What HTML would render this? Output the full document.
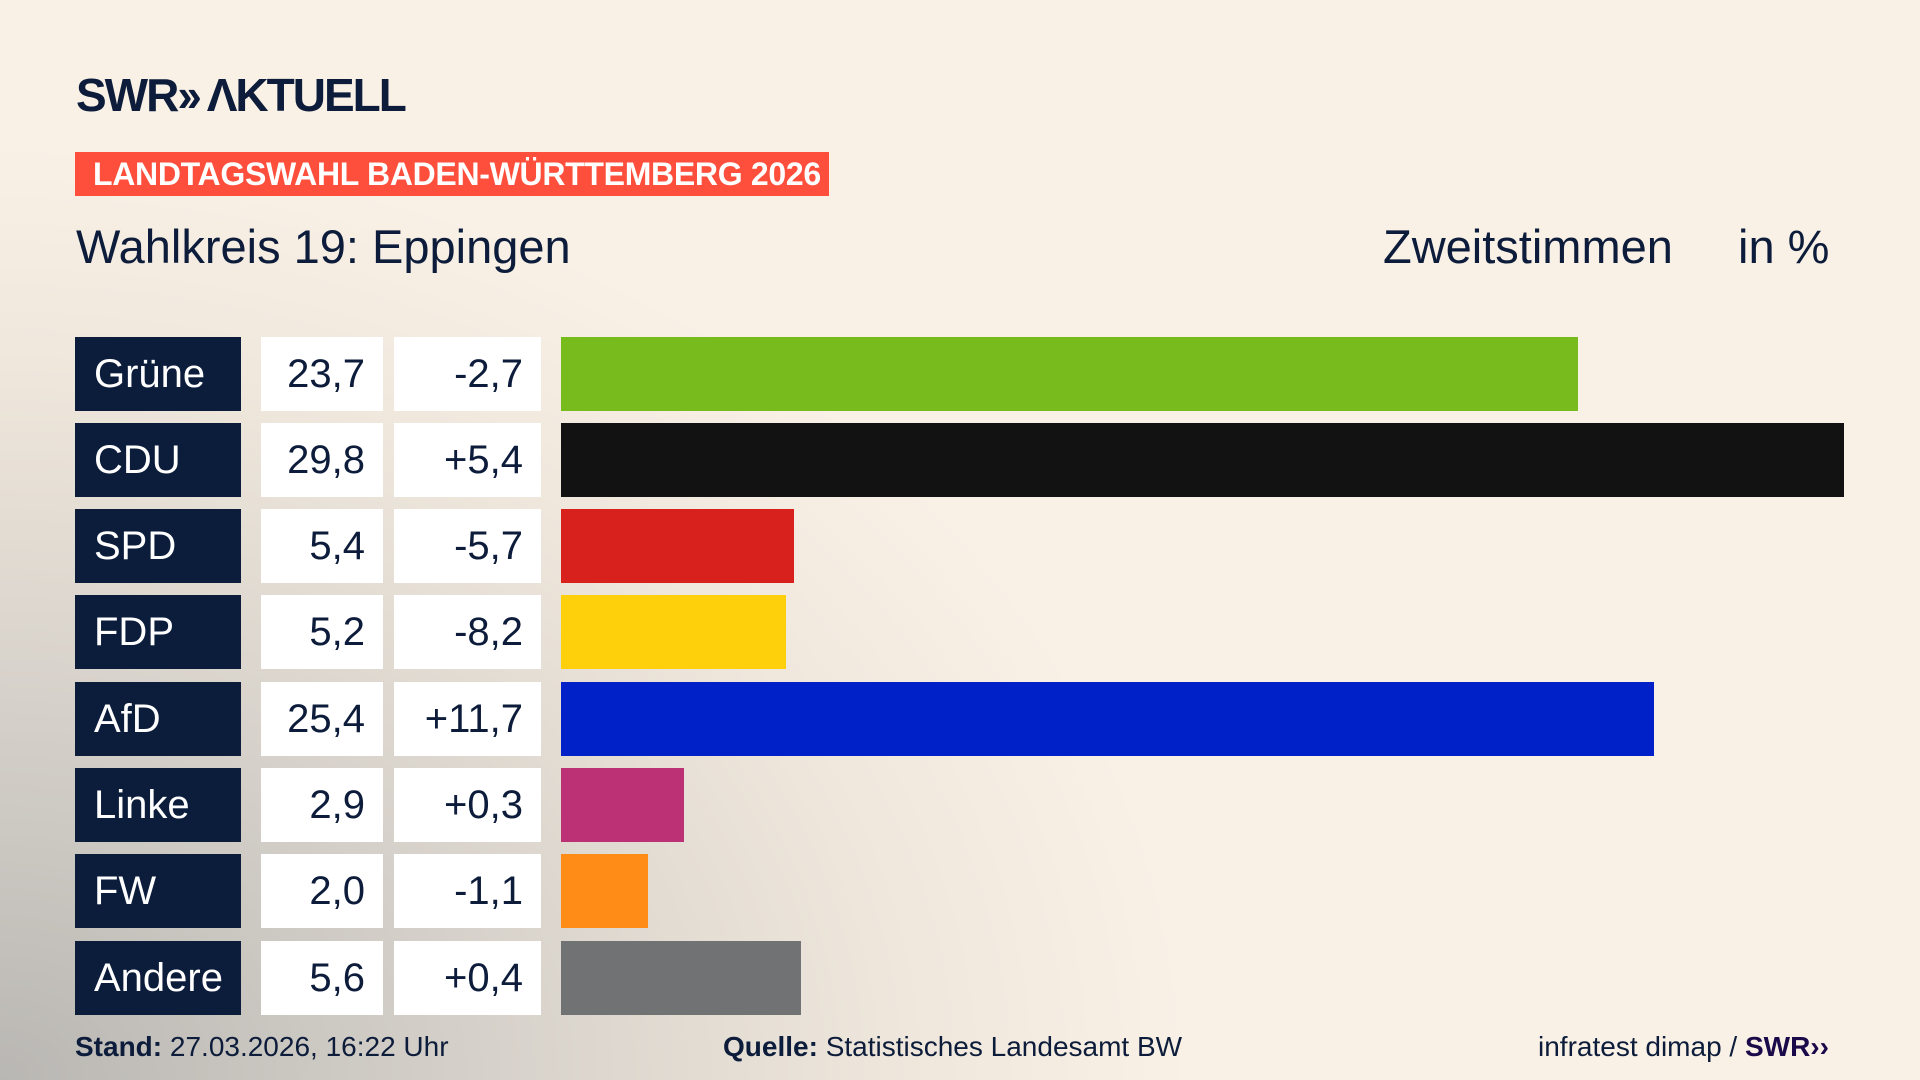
<!DOCTYPE html>
<html><head><meta charset="utf-8"><style>
*{margin:0;padding:0;box-sizing:border-box}
body{width:1920px;height:1080px;overflow:hidden;position:relative;font-family:"Liberation Sans",sans-serif;color:#0c1c3a;
background:radial-gradient(ellipse 1400px 1100px at 0px 1080px,#b9b7b3 0%,#d6d1ca 35%,#efe7dc 65%,#f9f1e6 85%),#f9f1e6;}
.abs{position:absolute;white-space:nowrap}
.logo{left:76px;top:68px;font-size:46px;font-weight:bold;letter-spacing:-2px;color:#0c1c3a}
.banner{left:75px;top:152px;width:754px;height:44px;background:#fd4f3b;color:#fff;font-weight:bold;font-size:32px;line-height:44px;padding-left:18px;letter-spacing:-0.3px}
.sub{top:220px;font-size:47px;line-height:54px}
.row{position:absolute;left:0;height:74px}
.p{position:absolute;left:75px;width:166px;height:74px;background:#0b1d3b;color:#fff;font-size:40px;line-height:74px;padding-left:19px}
.v{position:absolute;left:261px;width:122px;height:74px;background:#fff;font-size:40px;line-height:74px;text-align:right;padding-right:18px}
.d{position:absolute;left:394px;width:147px;height:74px;background:#fff;font-size:40px;line-height:74px;text-align:right;padding-right:18px}
.b{position:absolute;left:561px;height:74px}
.foot{top:1030px;font-size:28px;line-height:34px}
</style></head><body>
<div class="abs logo">SWR<span style="letter-spacing:-6px">››</span> ΛKTUELL</div>
<div class="abs banner">LANDTAGSWAHL BADEN-WÜRTTEMBERG 2026</div>
<div class="abs sub" style="left:76px">Wahlkreis 19: Eppingen</div>
<div class="abs sub" style="left:1383px">Zweitstimmen</div>
<div class="abs sub" style="left:1738px">in %</div>

<div class="row" style="top:337px"><div class="p">Grüne</div><div class="v">23,7</div><div class="d">-2,7</div><div class="b" style="width:1017px;background:#78bb1d"></div></div>
<div class="row" style="top:423px"><div class="p">CDU</div><div class="v">29,8</div><div class="d">+5,4</div><div class="b" style="width:1283px;background:#121212"></div></div>
<div class="row" style="top:509px"><div class="p">SPD</div><div class="v">5,4</div><div class="d">-5,7</div><div class="b" style="width:233px;background:#d8201d"></div></div>
<div class="row" style="top:595px"><div class="p">FDP</div><div class="v">5,2</div><div class="d">-8,2</div><div class="b" style="width:225px;background:#fecf0b"></div></div>
<div class="row" style="top:682px"><div class="p">AfD</div><div class="v">25,4</div><div class="d">+11,7</div><div class="b" style="width:1093px;background:#0021c7"></div></div>
<div class="row" style="top:768px"><div class="p">Linke</div><div class="v">2,9</div><div class="d">+0,3</div><div class="b" style="width:123px;background:#bc3076"></div></div>
<div class="row" style="top:854px"><div class="p">FW</div><div class="v">2,0</div><div class="d">-1,1</div><div class="b" style="width:87px;background:#fe8c17"></div></div>
<div class="row" style="top:941px"><div class="p">Andere</div><div class="v">5,6</div><div class="d">+0,4</div><div class="b" style="width:240px;background:#717273"></div></div>

<div class="abs foot" style="left:75px"><b>Stand:</b> 27.03.2026, 16:22 Uhr</div>
<div class="abs foot" style="left:723px"><b>Quelle:</b> Statistisches Landesamt BW</div>
<div class="abs foot" style="left:1538px">infratest dimap / <b style="color:#1a0a4a">SWR››</b></div>
</body></html>
